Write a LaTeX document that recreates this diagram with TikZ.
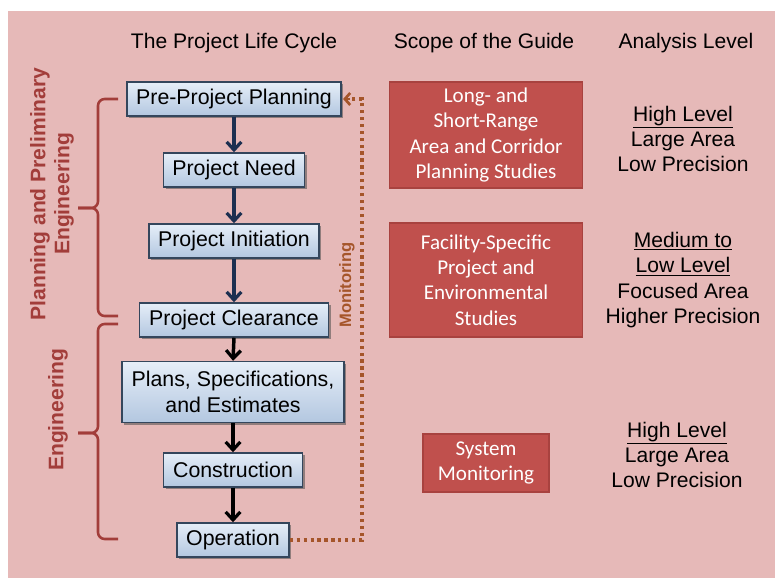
\documentclass[tikz,border=0pt]{standalone}
\usepackage{fontspec}
\setmainfont{Liberation Sans}
\newfontfamily\calib{Carlito}
\usetikzlibrary{arrows.meta,shadows}
\definecolor{bgpink}{HTML}{E6B9B8}
\definecolor{redfill}{HTML}{C0504D}
\definecolor{redline}{HTML}{A8423F}
\definecolor{bracecol}{HTML}{A23D3A}
\definecolor{navy}{HTML}{1C2F50}
\definecolor{monbrown}{HTML}{A5552A}
\definecolor{boxtop}{HTML}{E6EEF8}
\definecolor{boxbot}{HTML}{B3C7E0}
\definecolor{boxline}{HTML}{34465C}
\tikzset{
  heading/.style={font=\fontsize{15.8}{19}\selectfont, text=black},
  lifebox/.style={draw=boxline, line width=1.1pt, top color=boxtop, bottom color=boxbot,
    font=\fontsize{16}{20}\selectfont, align=center, inner sep=0pt, minimum height=25.5pt,
    drop shadow={shadow xshift=1.6pt, shadow yshift=-1.6pt, opacity=0.55, fill=black!70}},
  scopebox/.style={draw=redline, line width=1.3pt, fill=redfill, text=white, align=center,
    font=\calib\fontsize{15.8}{19.1}\selectfont, inner sep=0pt},
  leveltext/.style={align=center, font=\fontsize{15.8}{19.1}\selectfont},
  flowarrow/.style={line width=2.6pt, -{Straight Barb[length=6pt,width=11pt,line width=2.4pt]}},
  bracestyle/.style={draw=bracecol, line width=1.9pt, rounded corners=5pt},
  sidelabel/.style={rotate=90, text=bracecol, align=center, font=\bfseries\fontsize{15.8}{18}\selectfont},
  monline/.style={draw=monbrown, line width=2.4pt, dash pattern=on 2.4pt off 2.8pt},
}
\begin{document}
\begin{tikzpicture}[x=0.75pt,y=-0.75pt]
\useasboundingbox (0,0) rectangle (775,580);
\fill[bgpink] (8,11) rectangle (775,578);

% headings
\node[heading] (h1) at (234,43) {The Project Life Cycle};
\node[heading] (h2) at (484,43) {Scope of the Guide};
\node[heading] (h3) at (686,43) {Analysis Level};

% life cycle boxes
\node[lifebox, minimum width=160.5pt] (ppp) at (234,99) {Pre-Project Planning};
\node[lifebox, minimum width=105.75pt] (need) at (234,170) {Project Need};
\node[lifebox, minimum width=127.5pt] (init) at (234,241) {Project Initiation};
\node[lifebox, minimum width=141.75pt] (clear) at (234,320) {Project Clearance};
\node[lifebox, minimum width=166.5pt, minimum height=45.75pt] (pse) at (233,392) {Plans, Specifications,\\[-1pt]and Estimates};
\node[lifebox, minimum width=104.25pt] (cons) at (233,470) {Construction};
\node[lifebox, minimum width=84pt] (oper) at (233,540) {Operation};

% flow arrows
\draw[flowarrow, navy] (ppp.south) -- (need.north);
\draw[flowarrow, navy] (need.south) -- (init.north);
\draw[flowarrow, navy] (init.south) -- (clear.north);
\draw[flowarrow, black] (clear.south) -- (pse.north);
\draw[flowarrow, black] (pse.south) -- (cons.north);
\draw[flowarrow, black] (cons.south) -- (oper.north);

% monitoring loop
\coordinate (mb) at (362,540);
\coordinate (mt) at (362,99);
\draw[monline] (oper.east) -- (mb) -- (mt) -- ([xshift=4pt]ppp.east);
\draw[draw=monbrown, line width=2.2pt, -{Straight Barb[length=4pt,width=9pt,line width=2pt]}] ([xshift=6pt]ppp.east) -- ([xshift=1pt]ppp.east);
\node[rotate=90, text=monbrown, font=\bfseries\fontsize{12.4}{14}\selectfont] (mon) at (347,285) {Monitoring};

% braces
\draw[bracestyle] (118,99) -- (98,99) -- (98,208) -- (78,208);
\draw[bracestyle] (78,208) -- (98,208) -- (98,316) -- (118,316);
\draw[bracestyle] (118,324) -- (98,324) -- (98,433) -- (78,433);
\draw[bracestyle] (78,433) -- (98,433) -- (98,539) -- (118,539);

\node[sidelabel] (lab1) at (52,194) {Planning and Preliminary\\Engineering};
\node[sidelabel] (lab2) at (58,410) {Engineering};

% scope boxes
\node[scopebox, minimum width=144.75pt, minimum height=79.5pt] (s1) at (486,135) {Long- and\\Short-Range\\Area and Corridor\\Planning Studies};
\node[scopebox, minimum width=144.75pt, minimum height=85.5pt] (s2) at (486,280) {Facility-Specific\\Project and\\Environmental\\Studies};
\node[scopebox, minimum width=94.5pt, minimum height=43.5pt] (s3) at (486,463) {System\\Monitoring};

% analysis levels
\node[leveltext] (a1) at (683,139) {\underline{High Level}\\Large Area\\Low Precision};
\node[leveltext] (a2) at (683,280) {\underline{Medium to}\\\underline{Low Level}\\Focused Area\\Higher Precision};
\node[leveltext] (a3) at (677,455) {\underline{High Level}\\Large Area\\Low Precision};
\end{tikzpicture}
\end{document}
